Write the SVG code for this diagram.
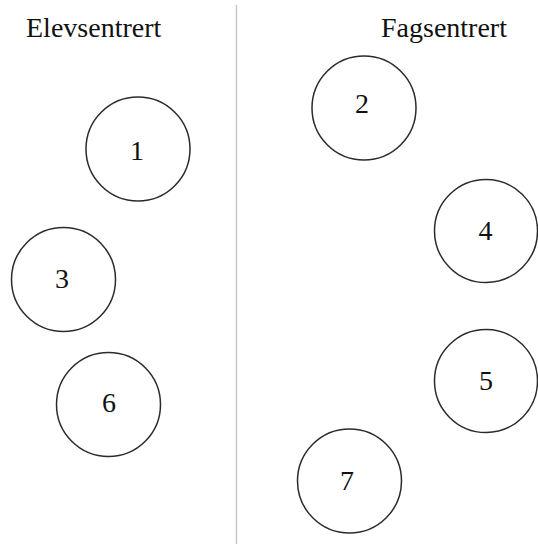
<svg xmlns="http://www.w3.org/2000/svg" width="538" height="544" viewBox="0 0 538 544">
  <style>
    .node circle { fill: #ffffff; stroke: #2b2b2b; stroke-width: 1.5; }
    .node text, .title { font-family: "Liberation Serif", "Times New Roman", serif; fill: #111111; }
    .node text { font-size: 28px; text-anchor: middle; }
    .title { font-size: 28px; }
    .divider { stroke: #c8c8c8; stroke-width: 1.5; }
  </style>
  <rect width="538" height="544" fill="#ffffff"/>
  <g id="connectors">
    <line class="divider" x1="236.5" y1="5" x2="236.5" y2="544"/>
  </g>
  <g id="titles">
    <text class="title" x="26" y="37">Elevsentrert</text>
    <text class="title" x="381" y="37">Fagsentrert</text>
  </g>
  <g id="node1" class="node">
    <circle cx="138" cy="149" r="52"/>
    <text x="137" y="160">1</text>
  </g>
  <g id="node3" class="node">
    <circle cx="63.5" cy="279.5" r="52"/>
    <text x="62" y="288">3</text>
  </g>
  <g id="node6" class="node">
    <circle cx="108.5" cy="404.5" r="52"/>
    <text x="109" y="412">6</text>
  </g>
  <g id="node2" class="node">
    <circle cx="364" cy="108" r="52"/>
    <text x="362" y="113">2</text>
  </g>
  <g id="node4" class="node">
    <circle cx="486" cy="231" r="51.5"/>
    <text x="485.5" y="240">4</text>
  </g>
  <g id="node5" class="node">
    <circle cx="486" cy="381" r="51.5"/>
    <text x="486" y="390">5</text>
  </g>
  <g id="node7" class="node">
    <circle cx="349.5" cy="481" r="52"/>
    <text x="347" y="490">7</text>
  </g>
</svg>
